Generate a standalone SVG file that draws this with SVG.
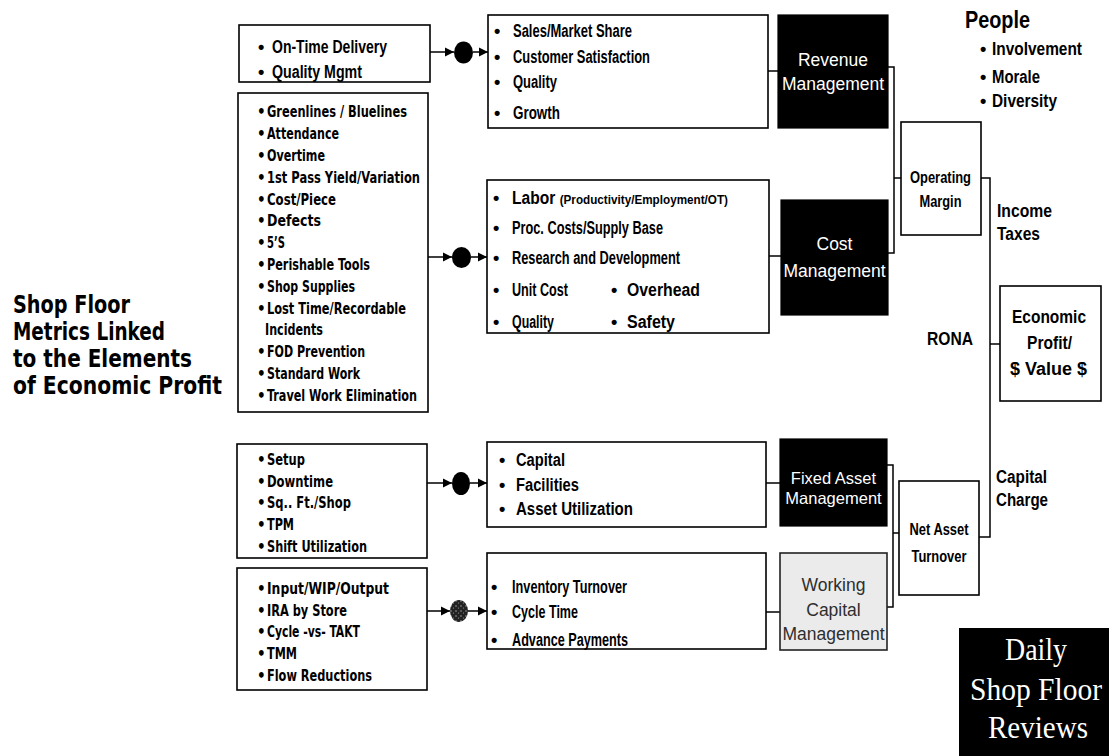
<svg xmlns="http://www.w3.org/2000/svg" width="1109" height="756" viewBox="0 0 1109 756">
<defs>
<marker id="ah" markerUnits="userSpaceOnUse" markerWidth="12" markerHeight="12" refX="10" refY="6" orient="auto">
<path d="M1,1.5 L10,6 L1,10.5 Z" fill="#000"/>
</marker>
<pattern id="speck" patternUnits="userSpaceOnUse" width="5" height="5">
<rect width="5" height="5" fill="#222"/>
<circle cx="1" cy="1" r="0.7" fill="#bbb"/>
<circle cx="3.5" cy="3" r="0.6" fill="#999"/>
</pattern>
<style>
.box{fill:#fff;stroke:#000;stroke-width:1.6}
.blk{fill:#000;stroke:#000;stroke-width:1.2}
.ln{fill:none;stroke:#000;stroke-width:1.5}
.tah{font-family:"DejaVu Sans Condensed","DejaVu Sans",sans-serif;font-weight:bold;font-size:15px;fill:#000}
.nar{font-family:"Liberation Sans Narrow","Liberation Sans",Arial,sans-serif;font-weight:bold;font-size:18px;fill:#000}
.sml{font-size:13.5px}
.wht{font-family:"Liberation Sans",Arial,sans-serif;font-size:17.5px;fill:#fff;text-anchor:middle}
.gry{font-family:"Liberation Sans",Arial,sans-serif;font-size:17.5px;fill:#2e2e2e;text-anchor:middle}
.mid{text-anchor:middle}
.ttl{font-family:"DejaVu Sans Condensed","DejaVu Sans",sans-serif;font-weight:bold;font-size:25px;fill:#000}
.ser{font-family:"Liberation Serif","Times New Roman",serif;font-size:31px;fill:#fff;text-anchor:middle}
</style>
</defs>
<rect width="1109" height="756" fill="#fff"/>

<g id="title">
<text class="ttl" x="13" y="313" textLength="117" lengthAdjust="spacingAndGlyphs">Shop Floor</text>
<text class="ttl" x="13" y="340" textLength="152" lengthAdjust="spacingAndGlyphs">Metrics Linked</text>
<text class="ttl" x="13" y="367" textLength="179" lengthAdjust="spacingAndGlyphs">to the Elements</text>
<text class="ttl" x="13" y="394" textLength="209" lengthAdjust="spacingAndGlyphs">of Economic Profit</text>
</g>

<g id="connectors">
<line class="ln" x1="430" y1="52" x2="454" y2="52" marker-end="url(#ah)"/>
<line class="ln" x1="473" y1="52" x2="488" y2="52" marker-end="url(#ah)"/>
<line class="ln" x1="428" y1="257" x2="452" y2="257" marker-end="url(#ah)"/>
<line class="ln" x1="471" y1="257" x2="487" y2="257" marker-end="url(#ah)"/>
<line class="ln" x1="427" y1="483" x2="452" y2="483" marker-end="url(#ah)"/>
<line class="ln" x1="470" y1="483" x2="487" y2="483" marker-end="url(#ah)"/>
<line class="ln" x1="427" y1="611" x2="450" y2="611" marker-end="url(#ah)"/>
<line class="ln" x1="468" y1="611" x2="487" y2="611" marker-end="url(#ah)"/>
<line class="ln" x1="768" y1="71" x2="778" y2="71"/>
<line class="ln" x1="769" y1="256" x2="781" y2="256"/>
<line class="ln" x1="766" y1="483" x2="780" y2="483"/>
<line class="ln" x1="766" y1="612" x2="780" y2="612"/>
<polyline class="ln" points="888,67 894,67 894,253 888,253"/>
<line class="ln" x1="894" y1="178" x2="901" y2="178"/>
<polyline class="ln" points="981,178 990,178 990,537 979,537"/>
<line class="ln" x1="990" y1="344" x2="1000" y2="344"/>
<polyline class="ln" points="887,465 893,465 893,607 887,607"/>
<line class="ln" x1="893" y1="533" x2="899" y2="533"/>
</g>

<g id="dot1"><ellipse cx="463.5" cy="52.5" rx="9.5" ry="11" fill="#000"/></g>
<g id="dot2"><ellipse cx="461.5" cy="257.5" rx="9.5" ry="10.5" fill="#000"/></g>
<g id="dot3"><ellipse cx="461" cy="483.5" rx="9" ry="11.5" fill="#000"/></g>
<g id="dot4"><ellipse cx="459" cy="611" rx="9" ry="11" fill="url(#speck)"/></g>

<g id="box-ontime">
<rect class="box" x="239" y="25" width="191" height="57"/>
<text class="nar" x="258" y="53">•</text><text class="nar" x="272" y="53" textLength="115" lengthAdjust="spacingAndGlyphs">On-Time Delivery</text>
<text class="nar" x="258" y="78">•</text><text class="nar" x="272" y="78" textLength="90" lengthAdjust="spacingAndGlyphs">Quality Mgmt</text>
</g>

<g id="box-shopmetrics" class="tah">
<rect class="box" x="238" y="93" width="190" height="319"/>
<g>
<text x="257" y="117">•</text><text x="267" y="117" textLength="140" lengthAdjust="spacingAndGlyphs">Greenlines / Bluelines</text>
<text x="257" y="139">•</text><text x="267" y="139" textLength="72" lengthAdjust="spacingAndGlyphs">Attendance</text>
<text x="257" y="161">•</text><text x="267" y="161" textLength="58" lengthAdjust="spacingAndGlyphs">Overtime</text>
<text x="257" y="183">•</text><text x="267" y="183" textLength="153" lengthAdjust="spacingAndGlyphs">1st Pass Yield/Variation</text>
<text x="257" y="205">•</text><text x="267" y="205" textLength="69" lengthAdjust="spacingAndGlyphs">Cost/Piece</text>
<text x="257" y="226">•</text><text x="267" y="226" textLength="54" lengthAdjust="spacingAndGlyphs">Defects</text>
<text x="257" y="248">•</text><text x="267" y="248" textLength="18" lengthAdjust="spacingAndGlyphs">5’S</text>
<text x="257" y="270">•</text><text x="267" y="270" textLength="103" lengthAdjust="spacingAndGlyphs">Perishable Tools</text>
<text x="257" y="292">•</text><text x="267" y="292" textLength="88" lengthAdjust="spacingAndGlyphs">Shop Supplies</text>
<text x="257" y="314">•</text><text x="267" y="314" textLength="139" lengthAdjust="spacingAndGlyphs">Lost Time/Recordable</text>
<text x="265" y="335" textLength="58" lengthAdjust="spacingAndGlyphs">Incidents</text>
<text x="257" y="357">•</text><text x="267" y="357" textLength="98" lengthAdjust="spacingAndGlyphs">FOD Prevention</text>
<text x="257" y="379">•</text><text x="267" y="379" textLength="93" lengthAdjust="spacingAndGlyphs">Standard Work</text>
<text x="257" y="401">•</text><text x="267" y="401" textLength="150" lengthAdjust="spacingAndGlyphs">Travel Work Elimination</text>
</g>
</g>

<g id="box-setup" class="tah">
<rect class="box" x="237" y="444" width="190" height="114"/>
<text x="257" y="465">•</text><text x="267" y="465" textLength="38" lengthAdjust="spacingAndGlyphs">Setup</text>
<text x="257" y="487">•</text><text x="267" y="487" textLength="66" lengthAdjust="spacingAndGlyphs">Downtime</text>
<text x="257" y="508">•</text><text x="267" y="508" textLength="84" lengthAdjust="spacingAndGlyphs">Sq.. Ft./Shop</text>
<text x="257" y="530">•</text><text x="267" y="530" textLength="27" lengthAdjust="spacingAndGlyphs">TPM</text>
<text x="257" y="552">•</text><text x="267" y="552" textLength="100" lengthAdjust="spacingAndGlyphs">Shift Utilization</text>
</g>

<g id="box-input" class="tah">
<rect class="box" x="237" y="568" width="190" height="122"/>
<text x="257" y="594">•</text><text x="267" y="594" textLength="122" lengthAdjust="spacingAndGlyphs">Input/WIP/Output</text>
<text x="257" y="616">•</text><text x="267" y="616" textLength="80" lengthAdjust="spacingAndGlyphs">IRA by Store</text>
<text x="257" y="637">•</text><text x="267" y="637" textLength="93" lengthAdjust="spacingAndGlyphs">Cycle -vs- TAKT</text>
<text x="257" y="659">•</text><text x="267" y="659" textLength="30" lengthAdjust="spacingAndGlyphs">TMM</text>
<text x="257" y="681">•</text><text x="267" y="681" textLength="105" lengthAdjust="spacingAndGlyphs">Flow Reductions</text>
</g>

<g id="box-sales" class="nar">
<rect class="box" x="488" y="15" width="280" height="113"/>
<text x="494" y="37">•</text><text x="513" y="37" textLength="119" lengthAdjust="spacingAndGlyphs">Sales/Market Share</text>
<text x="494" y="63">•</text><text x="513" y="63" textLength="137" lengthAdjust="spacingAndGlyphs">Customer Satisfaction</text>
<text x="494" y="88">•</text><text x="513" y="88" textLength="44" lengthAdjust="spacingAndGlyphs">Quality</text>
<text x="494" y="119">•</text><text x="513" y="119" textLength="47" lengthAdjust="spacingAndGlyphs">Growth</text>
</g>

<g id="box-cost" class="nar">
<rect class="box" x="487" y="180" width="282" height="153"/>
<text x="493" y="204">•</text><text x="512" y="204" textLength="216" lengthAdjust="spacingAndGlyphs">Labor <tspan class="sml">(Productivity/Employment/OT)</tspan></text>
<text x="493" y="234">•</text><text x="512" y="234" textLength="151" lengthAdjust="spacingAndGlyphs">Proc. Costs/Supply Base</text>
<text x="493" y="264">•</text><text x="512" y="264" textLength="168" lengthAdjust="spacingAndGlyphs">Research and Development</text>
<text x="493" y="296">•</text><text x="512" y="296" textLength="56" lengthAdjust="spacingAndGlyphs">Unit Cost</text>
<text x="611" y="296">•</text><text x="627" y="296" textLength="73" lengthAdjust="spacingAndGlyphs">Overhead</text>
<text x="493" y="328">•</text><text x="512" y="328" textLength="42" lengthAdjust="spacingAndGlyphs">Quality</text>
<text x="611" y="328">•</text><text x="627" y="328" textLength="48" lengthAdjust="spacingAndGlyphs">Safety</text>
</g>

<g id="box-capital" class="nar">
<rect class="box" x="487" y="442" width="279" height="85"/>
<text x="499" y="466">•</text><text x="516" y="466" textLength="49" lengthAdjust="spacingAndGlyphs">Capital</text>
<text x="499" y="491">•</text><text x="516" y="491" textLength="63" lengthAdjust="spacingAndGlyphs">Facilities</text>
<text x="499" y="515">•</text><text x="516" y="515" textLength="117" lengthAdjust="spacingAndGlyphs">Asset Utilization</text>
</g>

<g id="box-inventory" class="nar">
<rect class="box" x="487" y="553" width="279" height="96"/>
<text x="491" y="593">•</text><text x="512" y="593" textLength="115" lengthAdjust="spacingAndGlyphs">Inventory Turnover</text>
<text x="491" y="618">•</text><text x="512" y="618" textLength="66" lengthAdjust="spacingAndGlyphs">Cycle Time</text>
<text x="491" y="646">•</text><text x="512" y="646" textLength="116" lengthAdjust="spacingAndGlyphs">Advance Payments</text>
</g>

<g id="revenue-mgmt">
<rect class="blk" x="778" y="15" width="110" height="113"/>
<text class="wht" x="833" y="66">Revenue</text>
<text class="wht" x="833" y="90">Management</text>
</g>

<g id="cost-mgmt">
<rect class="blk" x="781" y="200" width="107" height="115"/>
<text class="wht" x="834.5" y="250">Cost</text>
<text class="wht" x="834.5" y="277">Management</text>
</g>

<g id="fixed-asset-mgmt">
<rect class="blk" x="780" y="439" width="107" height="87"/>
<text class="wht" x="833.5" y="484" style="font-size:16.5px">Fixed Asset</text>
<text class="wht" x="833.5" y="504" style="font-size:16.5px">Management</text>
</g>

<g id="working-capital-mgmt">
<rect x="780" y="553" width="107" height="97" fill="#ebebeb" stroke="#222" stroke-width="1.6"/>
<text class="gry" x="833.5" y="591">Working</text>
<text class="gry" x="833.5" y="616">Capital</text>
<text class="gry" x="833.5" y="640">Management</text>
</g>

<g id="operating-margin">
<rect class="box" x="901" y="122" width="80" height="113"/>
<text class="nar mid" x="940.5" y="183" style="font-size:17px" textLength="61" lengthAdjust="spacingAndGlyphs">Operating</text>
<text class="nar mid" x="940.5" y="207" style="font-size:17px" textLength="42" lengthAdjust="spacingAndGlyphs">Margin</text>
</g>

<g id="net-asset-turnover">
<rect class="box" x="899" y="481" width="80" height="114"/>
<text class="nar mid" x="939" y="535" style="font-size:17px" textLength="59" lengthAdjust="spacingAndGlyphs">Net Asset</text>
<text class="nar mid" x="939" y="562" style="font-size:17px" textLength="55" lengthAdjust="spacingAndGlyphs">Turnover</text>
</g>

<g id="economic-profit">
<rect class="box" x="1000" y="286" width="101" height="115"/>
<text class="nar mid" x="1049" y="323" textLength="74" lengthAdjust="spacingAndGlyphs">Economic</text>
<text class="nar mid" x="1049.5" y="349" textLength="45" lengthAdjust="spacingAndGlyphs">Profit/</text>
<text class="nar mid" x="1048.5" y="375" textLength="77" lengthAdjust="spacingAndGlyphs">$ Value $</text>
</g>

<g id="labels" class="nar">
<text x="997" y="217" textLength="55" lengthAdjust="spacingAndGlyphs">Income</text>
<text x="997" y="240" textLength="43" lengthAdjust="spacingAndGlyphs">Taxes</text>
<text x="927" y="345" textLength="46" lengthAdjust="spacingAndGlyphs">RONA</text>
<text x="996" y="483" textLength="51" lengthAdjust="spacingAndGlyphs">Capital</text>
<text x="996" y="506" textLength="52" lengthAdjust="spacingAndGlyphs">Charge</text>
</g>

<g id="people" class="nar">
<text x="965" y="28" style="font-size:23px" textLength="65" lengthAdjust="spacingAndGlyphs">People</text>
<text x="980" y="55">•</text><text x="992" y="55" textLength="90" lengthAdjust="spacingAndGlyphs">Involvement</text>
<text x="980" y="83">•</text><text x="992" y="83" textLength="48" lengthAdjust="spacingAndGlyphs">Morale</text>
<text x="980" y="107">•</text><text x="992" y="107" textLength="65" lengthAdjust="spacingAndGlyphs">Diversity</text>
</g>

<g id="daily-reviews">
<rect x="959" y="628" width="150" height="128" fill="#000"/>
<text class="ser" x="1036" y="660" textLength="62" lengthAdjust="spacingAndGlyphs">Daily</text>
<text class="ser" x="1036" y="700" textLength="132" lengthAdjust="spacingAndGlyphs">Shop Floor</text>
<text class="ser" x="1038" y="738" textLength="100" lengthAdjust="spacingAndGlyphs">Reviews</text>
</g>
</svg>
